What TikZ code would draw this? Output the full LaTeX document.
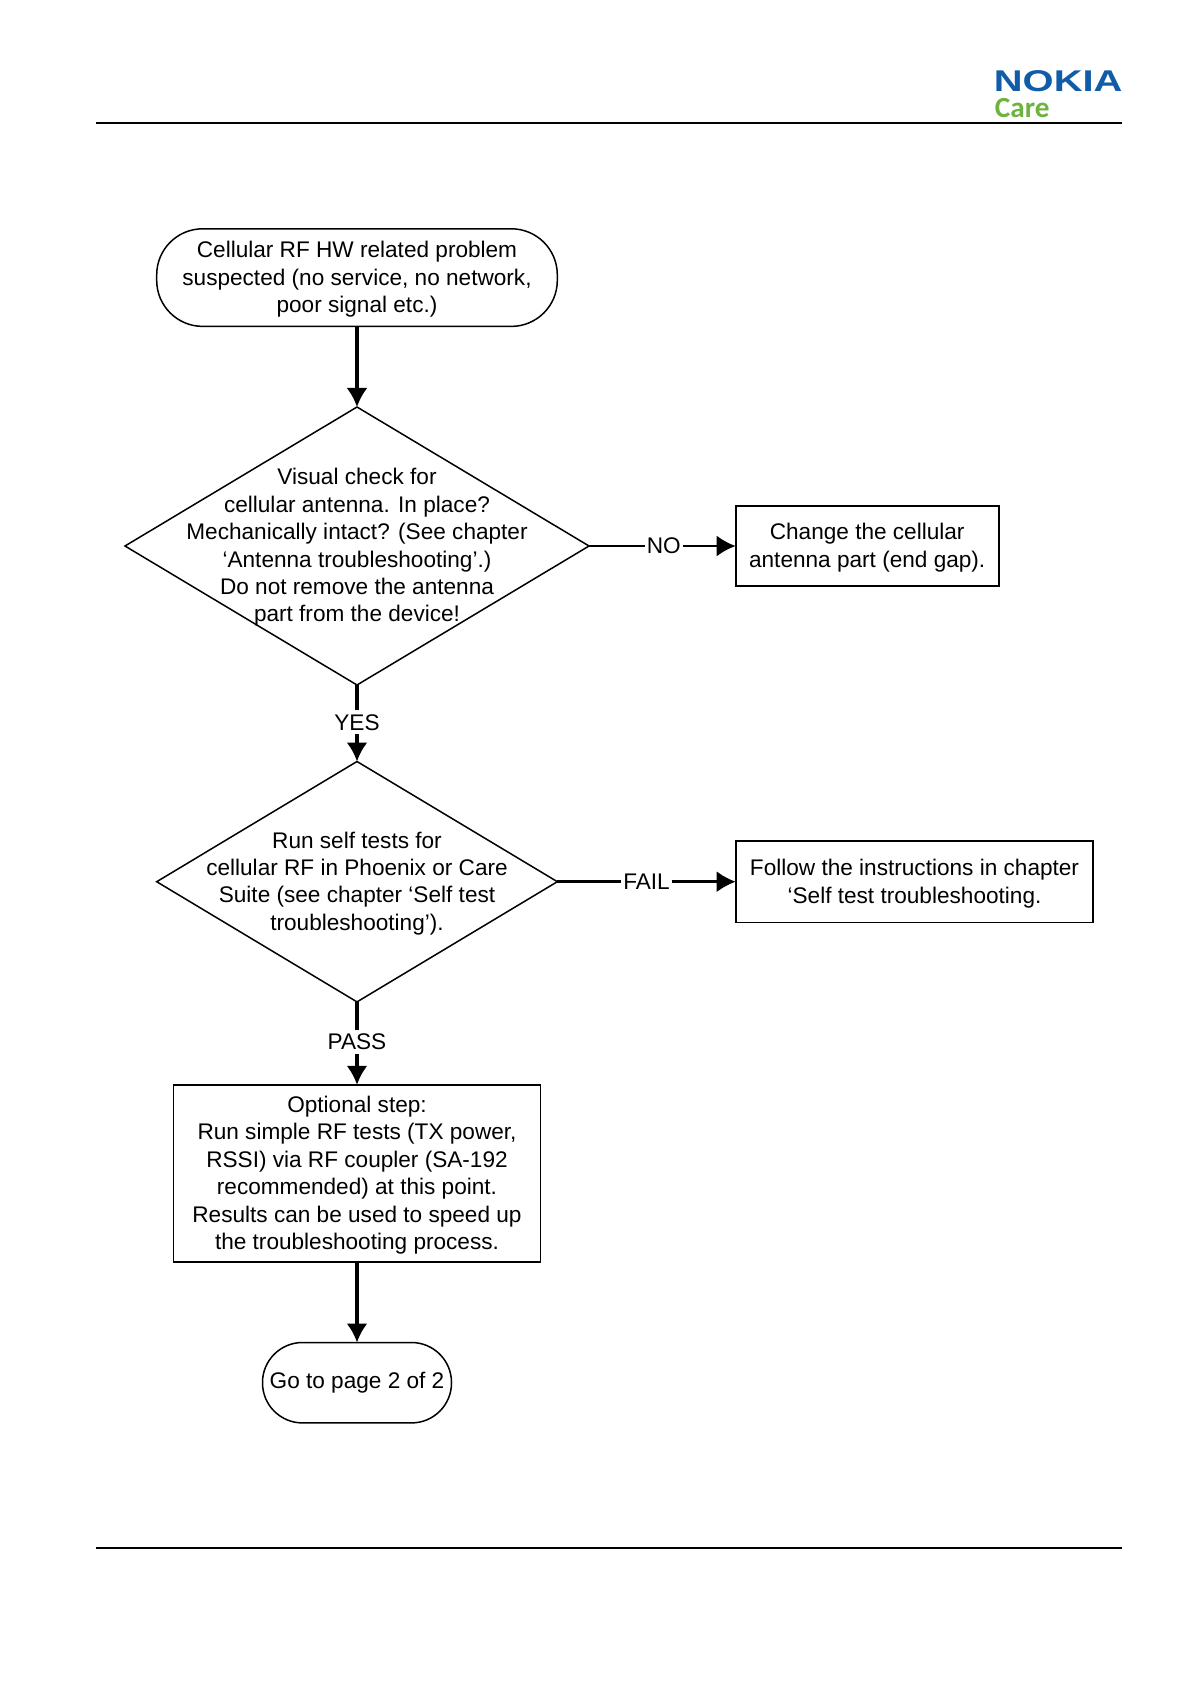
\documentclass[tikz,border=0pt]{standalone}
\usepackage{fontspec}
\setmainfont{Liberation Sans}
\newfontfamily\carefont{Carlito}
\usepackage{tikz}
\usetikzlibrary{shapes,arrows.meta}

\definecolor{nokiablue}{RGB}{16,92,168}
\definecolor{caregreen}{RGB}{108,179,63}
\newcommand{\toplift}{\rule{0pt}{10pt}}

\tikzset{
    flowtext/.style={align=center,font=\fontsize{11.3}{13.7}\selectfont,inner sep=0pt,outer sep=0pt},
    stepbox/.style={flowtext,draw,line width=.85pt,rectangle},
    pill/.style={stepbox,line width=.75pt,rounded corners=23pt},
    decision/.style={draw,line width=.75pt,diamond,inner sep=0pt,outer sep=0pt},
    flowarrow/.style={line width=1.6pt,-{Latex[length=9.5pt,width=10.5pt]}},
    sidearrow/.style={line width=1.25pt,-{Latex[length=9.5pt,width=10.5pt]}},
    edgelabel/.style={flowtext,fill=white,inner xsep=1pt,inner ysep=2pt},
    rule/.style={line width=1pt}
}

\begin{document}
\begin{tikzpicture}[x=.5pt,y=-.5pt]
    \useasboundingbox (0,0) rectangle (1191,1684);

    % Header and footer:
    \coordinate (headleft) at (95.6,123);
    \coordinate (headright) at (1122,123);
    \coordinate (footleft) at (95.6,1548);
    \coordinate (footright) at (1122,1548);
    \draw[rule] (headleft) -- (headright);
    \draw[rule] (footleft) -- (footright);
    \node[anchor=base west,inner sep=0pt,text=nokiablue,font=\fontsize{15}{15}\selectfont\bfseries] (nokia) at (993.5,91.3) {\scalebox{1.33}[1]{NOKIA}};
    \node[anchor=base west,inner sep=0pt,text=caregreen,font=\fontsize{14.6}{15}\carefont\bfseries] (care) at (994.5,118) {Care};

    % Flow:
    \node[pill,minimum width=200.3pt,minimum height=48.8pt] (start) at (357,277.6) {\toplift Cellular RF HW related problem\\suspected (no service, no network,\\poor signal etc.)};
    \node[decision,minimum width=232pt,minimum height=139pt] (check) at (357,546) {};
    \node[flowtext,yshift=-.8pt] (checktext) at (check) {Visual check for\\cellular antenna. In place?\\Mechanically intact? (See chapter\\‘Antenna troubleshooting’.)\\Do not remove the antenna\\part from the device!};
    \node[stepbox,minimum width=131.5pt,minimum height=40.2pt] (change) at (867.2,546) {\toplift Change the cellular\\antenna part (end gap).};
    \node[decision,minimum width=200.3pt,minimum height=120.2pt] (selftest) at (357,881.7) {};
    \node[flowtext,yshift=-.8pt] (selftesttext) at (selftest) {Run self tests for\\cellular RF in Phoenix or Care\\Suite (see chapter ‘Self test\\troubleshooting’).};
    \node[stepbox,minimum width=178.8pt,minimum height=40.8pt] (follow) at (914.5,881.7) {\toplift Follow the instructions in chapter\\‘Self test troubleshooting.};
    \node[stepbox,minimum width=183.6pt,minimum height=88.6pt] (optional) at (357,1173.4) {\toplift Optional step:\\Run simple RF tests (TX power,\\RSSI) via RF coupler (SA-192\\recommended) at this point.\\Results can be used to speed up\\the troubleshooting process.};
    \node[pill,rounded corners=20pt,minimum width=94.5pt,minimum height=40.2pt] (gopage) at (357,1382.7) {Go to page 2 of 2};

    % Connectors:
    \draw[flowarrow] (start) -- (check);
    \draw[sidearrow] (check) -- node[edgelabel,pos=.51] (nolabel) {NO} (change);
    \draw[flowarrow] (check) -- node[edgelabel,pos=.49] (yeslabel) {YES} (selftest);
    \draw[sidearrow] (selftest) -- node[edgelabel,pos=.5] (faillabel) {FAIL} (follow);
    \draw[flowarrow] (selftest) -- node[edgelabel,pos=.48] (passlabel) {PASS} (optional);
    \draw[flowarrow] (optional) -- (gopage);
\end{tikzpicture}
\end{document}
